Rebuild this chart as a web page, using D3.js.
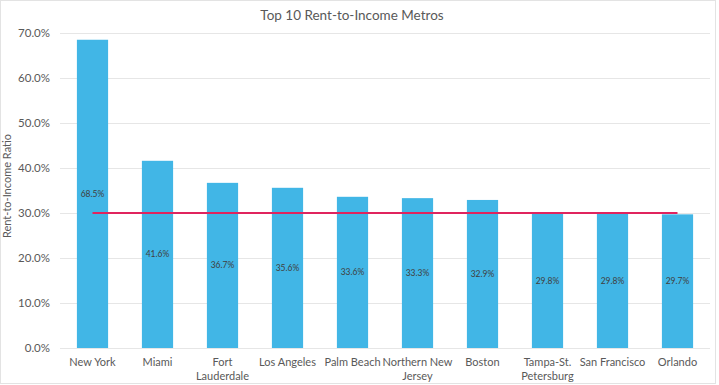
<!DOCTYPE html>
<html>
<head>
<meta charset="utf-8">
<script src="https://cdn.jsdelivr.net/npm/d3@7"></script>
<style>
  body { margin: 0; background: #fff; }
  svg { font-family: Lato, "Open Sans", sans-serif; }
</style>
</head>
<body>
<svg id="chart" width="719" height="385"></svg>
<script>
const metros = [["New York"], ["Miami"], ["Fort", "Lauderdale"], ["Los Angeles"], ["Palm Beach"],
  ["Northern New", "Jersey"], ["Boston"], ["Tampa-St.", "Petersburg"], ["San Francisco"], ["Orlando"]];
const ratios = [68.5, 41.6, 36.7, 35.6, 33.6, 33.3, 32.9, 29.8, 29.8, 29.7];
const threshold = 30;
const yTicks = [0, 10, 20, 30, 40, 50, 60, 70];

const svg = d3.select("#chart");
const margin = { left: 60, right: 9, top: 33, bottom: 37 };
const width = +svg.attr("width");
const height = +svg.attr("height");

const data = metros.map((m, i) => ({ key: m.join(" "), lines: m, value: ratios[i] }));

// light frame around the chart
svg.append("rect")
  .attr("x", 0.5).attr("y", 0.5)
  .attr("width", width - 4).attr("height", height - 2)
  .attr("fill", "none").attr("stroke", "#e3e3e3");

const x = d3.scaleBand()
  .domain(data.map(d => d.key))
  .range([margin.left, width - margin.right])
  .paddingInner(0.52).paddingOuter(0.26);

const y = d3.scaleLinear()
  .domain([0, 70])
  .range([height - margin.bottom, margin.top]);

// gridlines
svg.append("g")
  .selectAll("line")
  .data(yTicks)
  .join("line")
  .attr("x1", margin.left).attr("x2", width - margin.right)
  .attr("y1", d => y(d) + 0.5).attr("y2", d => y(d) + 0.5)
  .attr("stroke", "#e6e6e6");

const yAxis = svg.append("g")
  .attr("transform", `translate(${margin.left}, 0)`)
  .call(d3.axisLeft(y).tickValues(yTicks).tickSize(0).tickPadding(10).tickFormat(d => d.toFixed(1) + "%"));
yAxis.select(".domain").remove();
yAxis.selectAll("text").attr("fill", "#595959").style("font-size", "11.5px").style("font-family", "Lato, sans-serif");

svg.append("text")
  .attr("transform", `translate(11, ${y(36)}) rotate(-90)`)
  .attr("text-anchor", "middle")
  .attr("fill", "#595959")
  .style("font-size", "11px")
  .text("Rent-to-Income Ratio");

// bars
svg.append("g")
  .selectAll("rect")
  .data(data)
  .join("rect")
  .attr("x", d => x(d.key))
  .attr("y", d => y(d.value))
  .attr("width", x.bandwidth())
  .attr("height", d => y(0) - y(d.value))
  .attr("fill", "#41b6e6");

// 30% reference line through the category centres
const line = d3.line()
  .x(d => x(d.key) + x.bandwidth() / 2)
  .y(() => y(threshold));
svg.append("path")
  .datum(data)
  .attr("d", line)
  .attr("fill", "none")
  .attr("stroke", "#e0245e")
  .attr("stroke-width", 2);

// data labels (centered inside bars)
svg.append("g")
  .selectAll("text")
  .data(data)
  .join("text")
  .attr("x", d => x(d.key) + x.bandwidth() / 2)
  .attr("y", d => y(d.value / 2))
  .attr("dy", "0.35em")
  .attr("text-anchor", "middle")
  .attr("fill", "#404040")
  .style("font-size", "8.5px")
  .text(d => d.value.toFixed(1) + "%");

// category labels
const xl = svg.append("g")
  .selectAll("text")
  .data(data)
  .join("text")
  .attr("text-anchor", "middle")
  .attr("fill", "#595959")
  .style("font-size", "11px")
  .attr("x", d => x(d.key) + x.bandwidth() / 2)
  .attr("y", height - margin.bottom + 18);
xl.selectAll("tspan")
  .data(d => d.lines.map(t => ({ t, cx: x(d.key) + x.bandwidth() / 2 })))
  .join("tspan")
  .attr("x", d => d.cx)
  .attr("dy", (d, i) => i ? 13.5 : 0)
  .text(d => d.t);

svg.append("text")
  .attr("x", 352)
  .attr("y", 20)
  .attr("text-anchor", "middle")
  .attr("fill", "#595959")
  .style("font-size", "13.5px")
  .text("Top 10 Rent-to-Income Metros");
</script>
</body>
</html>
